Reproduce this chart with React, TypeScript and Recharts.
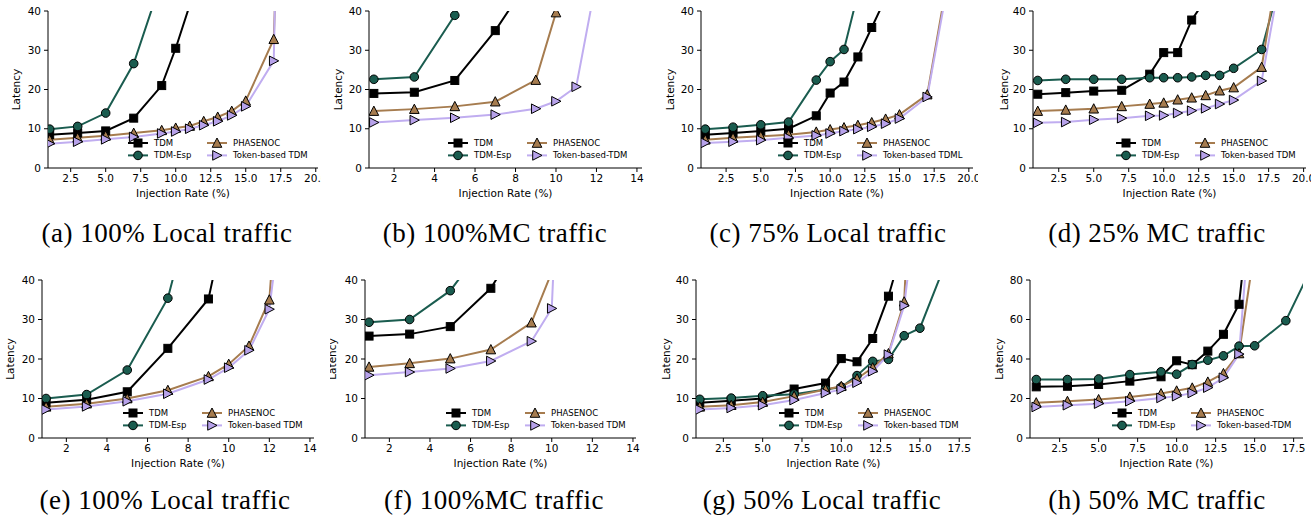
import React from 'react';
import { LineChart, Line, XAxis, YAxis, Legend } from 'recharts';

// ---------- data (Injection Rate % -> Latency) ----------
const xsA = [1, 3, 5, 7, 9, 10, 11, 12, 13, 14, 15, 17, 18];
const tdmA = [8.5, 8.9, 9.45, 12.7, 21.0, 30.5, 41.5, null, null, null, null, null, null];
const espA = [9.9, 10.6, 14.0, 26.6, 48, null, null, null, null, null, null, null, null];
const phaA = [7.2, 7.7, 8.2, 8.9, 9.6, 10.2, 10.7, 11.9, 13.0, 14.5, 17.1, 32.8, 135];
const tokA = [6.2, 6.7, 7.3, 7.9, 8.8, 9.3, 10.0, 10.9, 11.9, 13.4, 15.7, 27.3, 200];

const xsB = [1, 3, 5, 7, 9, 10, 11, 12];
const tdmB = [19.0, 19.3, 22.3, 35.0, 50.5, null, null, null];
const espB = [22.6, 23.2, 38.9, 60, null, null, null, null];
const phaB = [14.5, 15.0, 15.7, 16.9, 22.4, 39.6, 80, null];
const tokB = [11.6, 12.2, 12.8, 13.6, 15.1, 17.0, 20.7, 48];

const xsC = [1, 3, 5, 7, 9, 10, 11, 12, 13, 14, 15, 17, 19];
const tdmC = [8.5, 8.9, 9.4, 10.0, 13.3, 19.1, 21.9, 28.3, 35.8, 43.3, null, null, null];
const espC = [9.9, 10.4, 11.0, 11.7, 22.4, 27.1, 30.2, 44.4, null, null, null, null, null];
const phaC = [7.2, 7.7, 8.1, 8.5, 9.2, 9.8, 10.3, 10.9, 11.6, 12.5, 13.6, 18.7, 59];
const tokC = [6.4, 6.7, 7.1, 7.7, 8.3, 8.8, 9.4, 9.9, 10.5, 11.3, 12.6, 18.1, 57];

const xsD = [1, 3, 5, 7, 9, 10, 11, 12, 13, 14, 15, 17, 18];
const tdmD = [18.8, 19.2, 19.6, 19.8, 23.9, 29.4, 29.4, 37.7, 43, null, null, null, null];
const espD = [22.3, 22.6, 22.6, 22.6, 23.0, 23.0, 23.0, 23.2, 23.6, 23.6, 25.4, 30.2, 43.3];
const phaD = [14.5, 14.8, 15.1, 15.7, 16.3, 16.6, 17.4, 17.9, 18.5, 19.7, 20.5, 25.7, 47.7];
const tokD = [11.5, 11.7, 12.3, 12.7, 13.3, 13.4, 14.0, 14.6, 15.2, 16.3, 17.3, 22.2, 42];

const xsE = [1, 3, 5, 7, 9, 10, 11, 12, 13];
const tdmE = [8.9, 9.7, 11.7, 22.7, 35.2, 59, null, null, null];
const espE = [10.0, 11.0, 17.2, 35.4, 75, null, null, null, null];
const phaE = [7.9, 8.7, 10.0, 12.1, 15.6, 18.7, 23.3, 35.0, 106];
const tokE = [7.2, 8.0, 9.3, 11.2, 14.8, 17.8, 22.2, 32.6, 74];

const xsF = [1, 3, 5, 7, 9, 10, 11];
const tdmF = [25.8, 26.3, 28.2, 37.9, 54.7, null, null];
const espF = [29.3, 30.0, 37.3, 51, null, null, null];
const phaF = [18.0, 18.9, 20.1, 22.4, 29.2, 42, null];
const tokF = [15.9, 16.7, 17.6, 19.5, 24.5, 32.8, 150];

const xsG = [1, 3, 5, 7, 9, 10, 11, 12, 13, 14, 15, 17];
const tdmG = [8.9, 9.4, 10.0, 12.4, 13.9, 20.1, 19.3, 25.2, 35.9, 49.6, null, null];
const espG = [9.8, 10.1, 10.7, 11.1, 12.3, 12.9, 15.8, 19.4, 19.9, 25.9, 27.8, 48];
const phaG = [7.9, 8.3, 9.1, 10.6, 12.3, 13.1, 15.0, 17.8, 21.4, 34.5, 120, null];
const tokG = [7.2, 7.6, 8.3, 9.6, 11.4, 12.3, 14.0, 16.9, 21.1, 33.5, 66, null];

const xsH = [1, 3, 5, 7, 9, 10, 11, 12, 13, 14, 15, 17, 19];
const tdmH = [25.9, 26.2, 27.1, 28.8, 31.0, 39.1, 37.1, 44.0, 52.5, 67.7, 140, null, null];
const espH = [29.6, 29.6, 29.9, 32.1, 33.5, 32.3, 37.2, 39.4, 41.6, 46.5, 46.7, 59.4, 92];
const phaH = [17.9, 18.6, 19.5, 20.8, 22.5, 23.9, 25.4, 28.4, 32.7, 42.8, 95.9, null, null];
const tokH = [15.7, 16.6, 17.4, 18.6, 20.3, 21.2, 22.8, 25.5, 30.5, 42.5, 143, null, null];

// ---------- tick labels ----------
const xTicksDec = [2.5, 5, 7.5, 10, 12.5, 15, 17.5, 20];
const xTicksDecG = [2.5, 5, 7.5, 10, 12.5, 15, 17.5];
const xTicksInt = [2, 4, 6, 8, 10, 12, 14];
const yTicks40 = [0, 10, 20, 30, 40];
const yTicks80 = [0, 20, 40, 60, 80];

// ---------- series styling ----------
const SERIES = [
  { key: 'tdm', name: 'TDM', color: '#000000', fill: '#000000', shape: 'square' },
  { key: 'esp', name: 'TDM-Esp', color: '#1a5c4f', fill: '#1a5c4f', shape: 'circle' },
  { key: 'pha', name: 'PHASENOC', color: '#a67c4f', fill: '#a67c4f', shape: 'triup' },
  { key: 'tok', name: 'Token-based TDM', color: '#c0adf0', fill: '#b7a2ea', shape: 'triright' },
];

const FONT = "'DejaVu Sans', sans-serif";

function Marker({ shape, cx, cy, fill }: any) {
  const s = { fill, stroke: '#000', strokeWidth: 1 };
  if (shape === 'square') return <rect x={cx - 4} y={cy - 4} width={8} height={8} {...s} />;
  if (shape === 'circle') return <circle cx={cx} cy={cy} r={4.3} {...s} />;
  if (shape === 'triup')
    return <polygon points={`${cx},${cy - 5} ${cx - 4.8},${cy + 4.3} ${cx + 4.8},${cy + 4.3}`} {...s} />;
  return <polygon points={`${cx + 5},${cy} ${cx - 4.3},${cy - 4.8} ${cx - 4.3},${cy + 4.8}`} {...s} />;
}

const PANELS = [
  { id: 'a', xs: xsA, tdm: tdmA, esp: espA, pha: phaA, tok: tokA, tokLabel: 'Token-based TDM', caption: '(a) 100% Local traffic',
    left: 0, top: 0, width: 321, plotL: 48, plotR: 318, plotT: 11, plotB: 168, xDomain: [0.88, 20.16], xTicks: xTicksDec, dec: 1,
    yMax: 40, yTicks: yTicks40, yLabelX: 16, legendX: 128, captionX: 167, captionY: 233 },
  { id: 'b', xs: xsB, tdm: tdmB, esp: espB, pha: phaB, tok: tokB, tokLabel: 'Token-based-TDM', caption: '(b) 100%MC traffic',
    left: 330, top: 0, width: 326, plotL: 369, plotR: 642, plotT: 11, plotB: 168, xDomain: [0.76, 14.25], xTicks: xTicksInt, dec: 0,
    yMax: 40, yTicks: yTicks40, yLabelX: 8, legendX: 448, captionX: 495, captionY: 233 },
  { id: 'c', xs: xsC, tdm: tdmC, esp: espC, pha: phaC, tok: tokC, tokLabel: 'Token-based TDML', caption: '(c) 75% Local traffic',
    left: 660, top: 0, width: 318, plotL: 701, plotR: 973, plotT: 11, plotB: 168, xDomain: [0.69, 20.3], xTicks: xTicksDec, dec: 1,
    yMax: 40, yTicks: yTicks40, yLabelX: 10, legendX: 778, captionX: 828, captionY: 233 },
  { id: 'd', xs: xsD, tdm: tdmD, esp: espD, pha: phaD, tok: tokD, tokLabel: 'Token-based TDM', caption: '(d) 25% MC traffic',
    left: 990, top: 0, width: 321, plotL: 1033, plotR: 1306, plotT: 11, plotB: 168, xDomain: [0.66, 20.17], xTicks: xTicksDec, dec: 1,
    yMax: 40, yTicks: yTicks40, yLabelX: 14, legendX: 1116, captionX: 1157, captionY: 233 },
  { id: 'e', xs: xsE, tdm: tdmE, esp: espE, pha: phaE, tok: tokE, tokLabel: 'Token-based TDM', caption: '(e) 100% Local traffic',
    left: 0, top: 269, width: 330, plotL: 42, plotR: 314, plotT: 280, plotB: 438, xDomain: [0.8, 14.2], xTicks: xTicksInt, dec: 0,
    yMax: 40, yTicks: yTicks40, yLabelX: 10, legendX: 123, captionX: 165, captionY: 500 },
  { id: 'f', xs: xsF, tdm: tdmF, esp: espF, pha: phaF, tok: tokF, tokLabel: 'Token-based TDM', caption: '(f) 100%MC traffic',
    left: 330, top: 269, width: 330, plotL: 365, plotR: 636, plotT: 280, plotB: 438, xDomain: [0.8, 14.15], xTicks: xTicksInt, dec: 0,
    yMax: 40, yTicks: yTicks40, yLabelX: 2, legendX: 446, captionX: 494, captionY: 500 },
  { id: 'g', xs: xsG, tdm: tdmG, esp: espG, pha: phaG, tok: tokG, tokLabel: 'Token-based TDM', caption: '(g) 50% Local traffic',
    left: 660, top: 269, width: 330, plotL: 696, plotR: 971, plotT: 280, plotB: 438, xDomain: [0.76, 18.25], xTicks: xTicksDecG, dec: 1,
    yMax: 40, yTicks: yTicks40, yLabelX: 6, legendX: 779, captionX: 822, captionY: 500 },
  { id: 'h', xs: xsH, tdm: tdmH, esp: espH, pha: phaH, tok: tokH, tokLabel: 'Token-based-TDM', caption: '(h) 50% MC traffic',
    left: 990, top: 269, width: 324, plotL: 1030, plotR: 1303, plotT: 280, plotB: 438, xDomain: [0.6, 18.1], xTicks: xTicksDecG, dec: 1,
    yMax: 80, yTicks: yTicks80, yLabelX: 9, legendX: 1112, captionX: 1157, captionY: 500 },
];

const CHART_H = 205;

function LegendBox({ tokLabel }: any) {
  const order = [SERIES[0], SERIES[1], SERIES[2], SERIES[3]];
  return (
    <svg width={200} height={26} style={{ display: 'block', overflow: 'visible' }}>
      {order.map((s, i) => {
        const col = i < 2 ? 0 : 1;
        const row = i % 2;
        const x0 = col * 79;
        const y0 = 6 + row * 12.4;
        const label = s.key === 'tok' ? tokLabel : s.name;
        return (
          <g key={s.key}>
            <line x1={x0} x2={x0 + 20} y1={y0} y2={y0} stroke={s.color} strokeWidth={2} />
            <Marker shape={s.shape} cx={x0 + 10} cy={y0} fill={s.fill} />
            <text x={x0 + 26} y={y0} dominantBaseline="central" fontSize={8.5} fontFamily={FONT} fill="#000">
              {label}
            </text>
          </g>
        );
      })}
    </svg>
  );
}

function Panel({ p }: any) {
  const rows = p.xs.map((x: number, i: number) => ({ x, tdm: p.tdm[i], esp: p.esp[i], pha: p.pha[i], tok: p.tok[i] }));
  const yAxisW = p.plotL - p.left;
  const xAxisH = p.top + CHART_H - p.plotB;
  const plotMidY = (p.plotT + p.plotB) / 2 - p.top;
  const tickStyle = { fontSize: 10.5, fontFamily: FONT, fill: '#000' };
  const fmt = (v: number) => (p.dec ? v.toFixed(1) : String(v));
  const XLabel = (props: any) => {
    const vb = props.viewBox || {};
    return (
      <text x={vb.x + vb.width / 2} y={vb.y + 29} textAnchor="middle" fontSize={10.5} fontFamily={FONT} fill="#000">
        Injection Rate (%)
      </text>
    );
  };
  const YLabel = () => (
    <text
      transform={`translate(${p.yLabelX},${plotMidY}) rotate(-90)`}
      textAnchor="middle"
      dominantBaseline="central"
      fontSize={10.5}
      fontFamily={FONT}
      fill="#000"
    >
      Latency
    </text>
  );
  return (
    <div style={{ position: 'absolute', left: p.left, top: p.top }}>
      <LineChart
        width={p.width}
        height={CHART_H}
        data={rows}
        margin={{ top: p.plotT - p.top, right: p.left + p.width - p.plotR, bottom: 0, left: 0 }}
      >
        <XAxis
          dataKey="x"
          type="number"
          domain={p.xDomain}
          ticks={p.xTicks}
          interval={0}
          allowDataOverflow
          height={xAxisH}
          tickSize={4}
          tickMargin={3}
          tick={tickStyle}
          tickFormatter={fmt}
          axisLine={{ stroke: '#000', strokeWidth: 1 }}
          tickLine={{ stroke: '#000', strokeWidth: 1 }}
          label={<XLabel />}
        />
        <XAxis
          xAxisId="top"
          orientation="top"
          type="number"
          domain={p.xDomain}
          allowDataOverflow
          height={0}
          tick={false}
          tickLine={false}
          axisLine={{ stroke: '#000', strokeWidth: 1 }}
        />
        <YAxis
          type="number"
          domain={[0, p.yMax]}
          ticks={p.yTicks}
          interval={0}
          allowDataOverflow
          width={yAxisW}
          tickSize={4}
          tickMargin={3}
          tick={tickStyle}
          axisLine={{ stroke: '#000', strokeWidth: 1 }}
          tickLine={{ stroke: '#000', strokeWidth: 1 }}
          label={<YLabel />}
        />
        <YAxis
          yAxisId="right"
          orientation="right"
          type="number"
          domain={[0, p.yMax]}
          allowDataOverflow
          width={0}
          tick={false}
          tickLine={false}
          axisLine={{ stroke: '#000', strokeWidth: 1 }}
        />
        <Legend
          layout="horizontal"
          verticalAlign="middle"
          align="center"
          wrapperStyle={{ position: 'absolute', left: p.legendX - p.left, top: p.plotB - 30.7 - p.top, width: 200, height: 26 }}
          content={() => <LegendBox tokLabel={p.tokLabel} />}
        />
        {SERIES.map((s) => (
          <Line
            key={s.key}
            dataKey={s.key}
            name={s.name}
            type="linear"
            stroke={s.color}
            strokeWidth={2}
            isAnimationActive={false}
            dot={(dp: any) => {
              if (dp.cx == null || dp.cy == null || dp.value == null || isNaN(dp.cy))
                return <g key={`${s.key}-${dp.index}`} />;
              return (
                <g key={`${s.key}-${dp.index}`}>
                  <Marker shape={s.shape} cx={dp.cx} cy={dp.cy} fill={s.fill} />
                </g>
              );
            }}
            activeDot={false}
          />
        ))}
      </LineChart>
    </div>
  );
}

export default function App() {
  return (
    <div style={{ position: 'absolute', left: 0, top: 0, width: 1314, height: 516, background: '#fff', overflow: 'hidden' }}>
      {PANELS.map((p) => (
        <Panel key={p.id} p={p} />
      ))}
      {PANELS.map((p) => (
        <div
          key={`cap-${p.id}`}
          style={{
            position: 'absolute',
            left: p.captionX - 200,
            width: 400,
            top: p.captionY - 16,
            height: 32,
            lineHeight: '32px',
            textAlign: 'center',
            fontFamily: "'Liberation Serif', serif",
            fontSize: 27,
            letterSpacing: 0.5,
            color: '#000',
            whiteSpace: 'nowrap',
          }}
        >
          {p.caption}
        </div>
      ))}
    </div>
  );
}
